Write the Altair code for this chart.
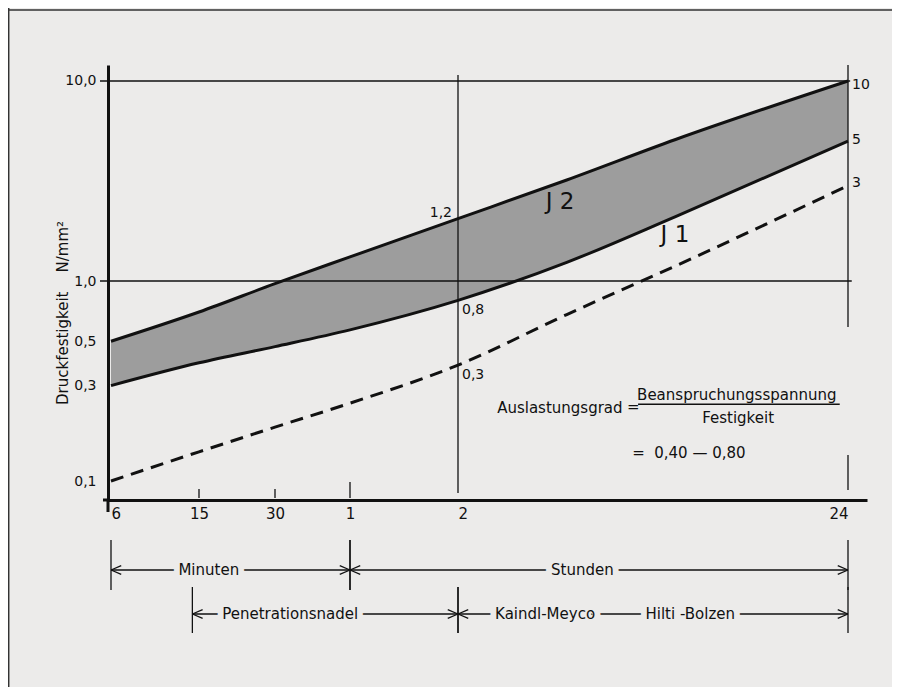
import altair as alt
import pandas as pd

BG = "#ecebea"
FONT = "DejaVu Sans"
INK = "#111111"

# ---------------- data ----------------
# time axis (minutes) with its labels (6, 15, 30 min; 1, 2, 24 h)
tick_minutes = [6, 15, 30, 60, 120, 1440]
tick_labels = ["6", "15", "30", "1", "2", "24"]

# y axis (N/mm², log)
y_tick_values = [10.0, 1.0, 0.5, 0.3, 0.1]

# curves: time in minutes -> strength in N/mm² (as drawn)
time_min = [6, 15, 30, 60, 120, 240, 480, 1440]
j2_upper = [0.50, 0.70, 0.97, 1.32, 2.05, 3.2, 5.1, 10.0]
j2_lower = [0.30, 0.39, 0.47, 0.57, 0.80, 1.24, 2.1, 5.0]
j1_vals = [0.10, 0.14, 0.186, 0.245, 0.38, 0.68, 1.19, 3.0]

# horizontal reference lines
grid_levels = [10.0, 1.0]
grid_end_min = [1460, 1475]

# value labels
vr_x = [120, 120, 1440, 1440, 1440]
vr_y = [0.72, 0.34, 9.6, 5.07, 3.09]
vr_text = ["0,8", "0,3", "10", "5", "3"]
vl_x = [120]
vl_y = [2.2]
vl_text = ["1,2"]

# curve names
cn_x = [230, 478]
cn_y = [2.48, 1.70]
cn_text = ["J 2", "J 1"]

# ranges shown below the time axis
rng_start = [6, 60, 14, 120]
rng_end = [60, 1440, 120, 1440]
rng_row = [0, 0, 1, 1]
rt_x = [16.4, 265, 34.5, 209, 527]
rt_row = [0, 0, 1, 1, 1]
rt_text = ["Minuten", "Stunden", "Penetrationsnadel", "Kaindl-Meyco", "Hilti -Bolzen"]

# formula annotation
fl_x = [154, 352, 364]
fl_y = [0.232, 0.234, 0.138]
fl_text = ["Auslastungsgrad", "=", "=\u00a0\u00a00,40 — 0,80"]
fc_x = [709, 715]
fc_y = [0.269, 0.2065]
fc_text = ["Beanspruchungsspannung", "Festigkeit"]
frac_from = [378]
frac_to = [1366]
frac_y = [0.242]

Y_TITLE = "Druckfestigkeit\u00a0\u00a0\u00a0\u00a0N/mm²"

# ---------------- scales ----------------
W, H = 759, 435
X_DOMAIN = [5.81, 6, 15, 30, 60, 120, 1440, 1626]
X_RANGE = [0, 3, 91, 167, 242, 350, 740, 759]
Y_DOMAIN = [0.0804, 12.02]

label_expr = " : ".join(
    f"datum.value == {m} ? '{l}'" for m, l in zip(tick_minutes, tick_labels)
) + " : ''"

XS = alt.Scale(type="log", domain=X_DOMAIN, range=X_RANGE, nice=False)
YS = alt.Scale(type="log", domain=Y_DOMAIN, nice=False)
XA = alt.Axis(
    values=tick_minutes, labelExpr=label_expr, ticks=False, grid=False,
    domainWidth=3, domainColor=INK, labelFontSize=15, labelPadding=6,
    labelColor=INK, title=None,
    labelAlign={"condition": [
        {"test": "datum.value == 6 || datum.value == 120", "value": "left"},
        {"test": "datum.value == 1440", "value": "right"}],
        "value": "center"},
)
YA = alt.Axis(
    values=y_tick_values, labelExpr="replace(format(datum.value, '.1f'), '.', ',')",
    ticks=False, grid=False, domainWidth=3, domainColor=INK,
    labelFontSize=14, labelPadding=12, labelColor=INK, title=None,
)


def X(f):
    return alt.X(f, type="quantitative", scale=XS, axis=XA)


def Y(f):
    return alt.Y(f, type="quantitative", scale=YS, axis=YA)


curves = pd.DataFrame({"t": time_min, "upper": j2_upper, "lower": j2_lower, "j1": j1_vals})

band = alt.Chart(curves).mark_area(color="#9d9d9d", interpolate="monotone").encode(
    x=X("t"), y=Y("upper"), y2="lower")
up_line = alt.Chart(curves).mark_line(color=INK, strokeWidth=3, interpolate="monotone").encode(
    x=X("t"), y=Y("upper"))
low_line = alt.Chart(curves).mark_line(color=INK, strokeWidth=3, interpolate="monotone").encode(
    x=X("t"), y=Y("lower"))
j1_line = alt.Chart(curves).mark_line(color=INK, strokeWidth=3, strokeDash=[13, 8],
                                      interpolate="monotone").encode(x=X("t"), y=Y("j1"))

grid = alt.Chart(pd.DataFrame({"lvl": grid_levels, "xe": grid_end_min})).mark_rule(
    color=INK, strokeWidth=1.3).encode(x=X("xe"), x2=alt.value(-8), y=Y("lvl"))

v2h = alt.Chart(pd.DataFrame({"t": [tick_minutes[4]]})).mark_rule(color=INK, strokeWidth=1.3).encode(
    x=X("t"), y=alt.value(10), y2=alt.value(428))
v24 = alt.Chart(pd.DataFrame({"t": [tick_minutes[5]]})).mark_rule(color=INK, strokeWidth=1.3).encode(
    x=X("t"), y=alt.value(0), y2=alt.value(262))
tk_small = alt.Chart(pd.DataFrame({"t": tick_minutes[1:3]})).mark_rule(color=INK, strokeWidth=1.3).encode(
    x=X("t"), y=alt.value(424), y2=alt.value(433))
tk_1h = alt.Chart(pd.DataFrame({"t": [tick_minutes[3]]})).mark_rule(color=INK, strokeWidth=1.3).encode(
    x=X("t"), y=alt.value(417), y2=alt.value(433))
tk_24 = alt.Chart(pd.DataFrame({"t": [tick_minutes[5]]})).mark_rule(color=INK, strokeWidth=1.3).encode(
    x=X("t"), y=alt.value(390), y2=alt.value(425))

one = pd.DataFrame({"t": [tick_minutes[0]]})
yaxis_ext = alt.Chart(one).mark_rule(color=INK, strokeWidth=3).encode(
    x=alt.value(0), y=alt.value(434), y2=alt.value(447))
xaxis_ext = alt.Chart(one).mark_rule(color=INK, strokeWidth=3).encode(
    x=alt.value(-5), x2=alt.value(1), y=alt.value(435))
frame_top = alt.Chart(one).mark_rule(color="#333333", strokeWidth=1.5).encode(
    x=alt.value(-100), x2=alt.value(784), y=alt.value(-55))
frame_left = alt.Chart(one).mark_rule(color="#333333", strokeWidth=1.5).encode(
    x=alt.value(-99.3), y=alt.value(-57), y2=alt.value(622))

ylab = alt.Chart(pd.DataFrame({"s": [Y_TITLE]})).mark_text(
    angle=270, font=FONT, fontSize=15, color=INK, align="center", baseline="middle").encode(
    x=alt.value(-45), y=alt.value(248), text="s:N")

vr = alt.Chart(pd.DataFrame({"t": vr_x, "v": vr_y, "s": vr_text})).mark_text(
    font=FONT, fontSize=14, color=INK, align="left", baseline="middle", dx=4).encode(
    x=X("t"), y=Y("v"), text="s:N")
vl = alt.Chart(pd.DataFrame({"t": vl_x, "v": vl_y, "s": vl_text})).mark_text(
    font=FONT, fontSize=14, color=INK, align="right", baseline="middle", dx=-6).encode(
    x=X("t"), y=Y("v"), text="s:N")
cn = alt.Chart(pd.DataFrame({"t": cn_x, "v": cn_y, "s": cn_text})).mark_text(
    font=FONT, fontSize=23, color=INK, align="center", baseline="middle").encode(
    x=X("t"), y=Y("v"), text="s:N")

fl = alt.Chart(pd.DataFrame({"t": fl_x, "v": fl_y, "s": fl_text})).mark_text(
    font=FONT, fontSize=15, color=INK, align="left", baseline="middle").encode(
    x=X("t"), y=Y("v"), text="s:N")
fc = alt.Chart(pd.DataFrame({"t": fc_x, "v": fc_y, "s": fc_text})).mark_text(
    font=FONT, fontSize=15, color=INK, align="center", baseline="middle").encode(
    x=X("t"), y=Y("v"), text="s:N")
frac = alt.Chart(pd.DataFrame({"a": frac_from, "b": frac_to, "v": frac_y})).mark_rule(
    color=INK, strokeWidth=1.5).encode(x=X("a"), x2="b", y=Y("v"))

# ---- ranges below the axis ----
ROW_Y = [505, 549]
MARK_Y = [(475, 525), (522, 568)]
rng = pd.DataFrame({"a": rng_start, "b": rng_end, "row": rng_row})
rtx = pd.DataFrame({"t": rt_x, "row": rt_row, "s": rt_text})
LEFT_HEAD = "M0,0L1,-0.42M0,0L1,0.42"
RIGHT_HEAD = "M0,0L-1,-0.42M0,0L-1,0.42"

range_layers = []
for r in (0, 1):
    yv = ROW_Y[r]
    base = alt.Chart(rng).transform_filter(f"datum.row == {r}")
    range_layers.append(base.mark_rule(color=INK, strokeWidth=1.3).encode(
        x=X("a"), x2="b", y=alt.value(yv)))
    range_layers.append(base.mark_point(shape=LEFT_HEAD, size=420, filled=False, color=INK,
                                        strokeWidth=1.3, opacity=1).encode(x=X("a"), y=alt.value(yv)))
    range_layers.append(base.mark_point(shape=RIGHT_HEAD, size=420, filled=False, color=INK,
                                        strokeWidth=1.3, opacity=1).encode(x=X("b"), y=alt.value(yv)))
    y0, y1 = MARK_Y[r]
    range_layers.append(base.mark_rule(color=INK, strokeWidth=1.3).encode(
        x=X("a"), y=alt.value(y0), y2=alt.value(y1)))
    range_layers.append(base.mark_rule(color=INK, strokeWidth=1.3).encode(
        x=X("b"), y=alt.value(y0), y2=alt.value(y1)))
    tb = alt.Chart(rtx).transform_filter(f"datum.row == {r}")
    range_layers.append(tb.mark_text(font=FONT, fontSize=15, color=BG, stroke=BG, strokeWidth=12,
                                     align="center", baseline="middle").encode(
        x=X("t"), y=alt.value(yv), text="s:N"))
    range_layers.append(tb.mark_text(font=FONT, fontSize=15, color=INK,
                                     align="center", baseline="middle").encode(
        x=X("t"), y=alt.value(yv), text="s:N"))

chart = alt.layer(
    frame_top, frame_left,
    band, grid, v2h, v24, tk_small, tk_1h, tk_24,
    up_line, low_line, j1_line,
    yaxis_ext, xaxis_ext,
    ylab, vr, vl, cn, fl, fc, frac,
    *range_layers,
).properties(
    width=W, height=H,
    padding={"left": 100, "top": 57, "right": 25, "bottom": 187},
    autosize="none",
    background=BG,
).configure_view(stroke=None).configure_axis(labelFont=FONT)

chart.save("out.html", embed_options={"renderer": "svg", "actions": False})
